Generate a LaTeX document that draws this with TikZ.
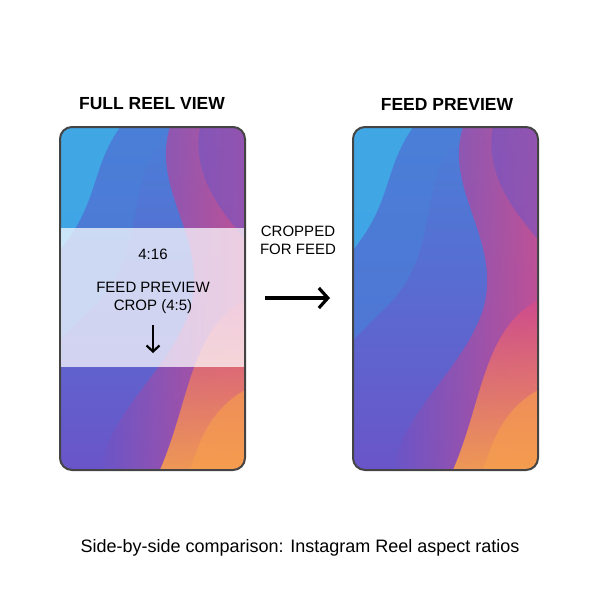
\documentclass[tikz,border=0pt]{standalone}
\usepackage{fontspec}
\setmainfont{Liberation Sans}
\usetikzlibrary{arrows.meta}
\definecolor{cya}{HTML}{3CB8EA}
\definecolor{blu}{HTML}{4A7FD8}
\definecolor{pur}{HTML}{6A55C8}
\definecolor{pnk}{HTML}{D04C8C}
\definecolor{org}{HTML}{F8A04C}
\definecolor{frame}{HTML}{444444}
\tikzset{
  phone/.style={draw=frame,line width=2pt,rounded corners=12pt},
  title/.style={font=\bfseries\fontsize{17.5}{20}\selectfont},
  lbl/.style={font=\fontsize{15}{18}\selectfont,align=center},
  arr/.style={-{Straight Barb[length=9pt,width=20pt]},line width=3.2pt}
}
\begin{document}
\begin{tikzpicture}[x=1pt,y=-1pt]
\useasboundingbox (0,0) rectangle (600,600);
\fill[white] (0,0) rectangle (600,600);
\foreach \x/\n in {60/L,353/R}{
  \begin{scope}
    \clip[rounded corners=12pt] (\x,127) rectangle (\x+185,470);
    \shade[top color=blu, middle color=pur, bottom color=pur] (\x,127) rectangle (\x+185,470);
    \fill[blu,opacity=0.7] (\x,127) -- (\x+110,127) .. controls (\x+60,190) and (\x+90,240) .. (\x+40,300) -- (\x,340) -- cycle;
    \fill[cya,opacity=0.7] (\x,127) -- (\x+60,127) .. controls (\x+30,170) and (\x+40,200) .. (\x,250) -- cycle;
    \shade[left color=pur,right color=pnk,opacity=0.85] (\x+110,127) .. controls (\x+90,190) and (\x+150,240) .. (\x+130,310)
      .. controls (\x+110,370) and (\x+50,410) .. (\x+40,470) -- (\x+185,470) -- (\x+185,127) -- cycle;
    \fill[pur,opacity=0.5] (\x+140,127) .. controls (\x+130,180) and (\x+170,220) .. (\x+185,240) -- (\x+185,127) -- cycle;
    \shade[top color=pnk,bottom color=org,opacity=0.9] (\x+185,300) .. controls (\x+130,330) and (\x+130,400) .. (\x+100,470) -- (\x+185,470) -- cycle;
    \fill[org,opacity=0.6] (\x+185,390) .. controls (\x+150,410) and (\x+140,440) .. (\x+130,470) -- (\x+185,470) -- cycle;
  \end{scope}
  \draw[phone] (\x,127) rectangle (\x+185,470);
}
\node[title] (t1) at (152,104) {FULL REEL VIEW};
\node[title] (t2) at (447,104) {FEED PREVIEW};
\fill[white,opacity=0.72] (61,228) rectangle (244,367);
\node[lbl] (r) at (153,254) {4:16};
\node[lbl] (c) at (153,298) {FEED PREVIEW\\CROP (4:5)};
\coordinate (d1) at (153,325);
\coordinate (d2) at (153,353);
\draw[-{Straight Barb[length=6pt,width=13pt]},line width=2.2pt] (d1) -- (d2);
\node[lbl] (cf) at (298,240) {CROPPED\\FOR FEED};
\coordinate (a1) at (265,298);
\coordinate (a2) at (330,298);
\draw[arr] (a1) -- (a2);
\node[font=\fontsize{18}{21}\selectfont] (cap) at (300,548) {Side-by-side comparison: Instagram Reel aspect ratios};
\end{tikzpicture}
\end{document}
